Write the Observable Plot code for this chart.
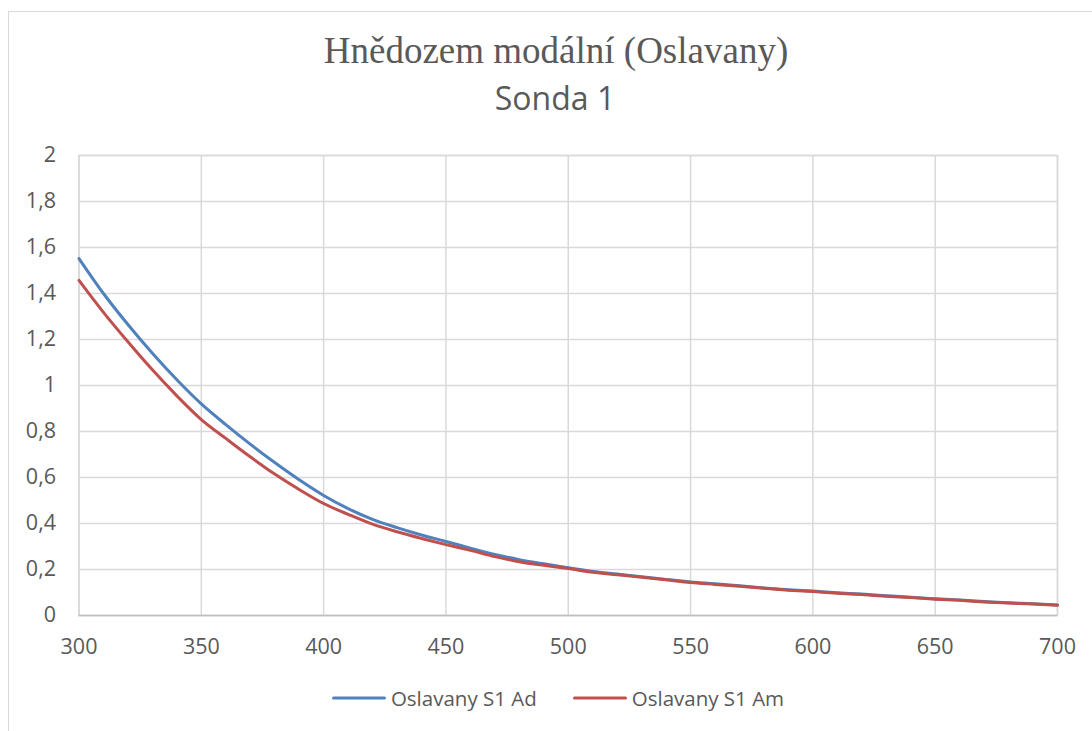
<!DOCTYPE html>
<html>
<head>
<meta charset="utf-8">
<script src="https://cdn.jsdelivr.net/npm/d3@7"></script>
<script src="https://cdn.jsdelivr.net/npm/@observablehq/plot@0.6"></script>
<style>
  html, body { margin: 0; padding: 0; background: #fff; }
  #wrap { position: relative; width: 1092px; height: 731px; overflow: hidden; font-family: "Open Sans", sans-serif; color: #595959; }
  #frame { position: absolute; left: 8px; top: 11px; width: 1110px; height: 740px; border: 1px solid #d9d9d9; box-sizing: border-box; }
  #title { position: absolute; left: 0; width: 1112px; top: 29px; text-align: center; font-family: "Liberation Serif", "Times New Roman", serif; font-size: 37px; line-height: 44px; white-space: nowrap; }
  #subtitle { position: absolute; left: 0; width: 1110px; top: 77px; text-align: center; font-family: "Open Sans", sans-serif; font-size: 32px; line-height: 42px; white-space: nowrap; }
  #chart { position: absolute; left: 0; top: 120px; }
  #legend { position: absolute; left: 0; width: 1116px; top: 685px; display: flex; justify-content: center; align-items: center; font-size: 20.5px; line-height: 26px; white-space: nowrap; }
  .item { display: flex; align-items: center; margin: 0 18px; }
  .item svg { margin-right: 5px; }
</style>
</head>
<body>
<div id="wrap">
  <div id="frame"></div>
  <div id="title">Hnědozem modální (Oslavany)</div>
  <div id="subtitle">Sonda 1</div>
  <div id="chart"></div>
  <div id="legend"></div>
</div>
<script>
// Wavelength (nm)
const wavelengths = [300,310,320,330,340,350,360,370,380,390,400,410,420,430,440,450,460,470,480,490,500,510,520,530,540,550,560,570,580,590,600,610,620,630,640,650,660,670,680,690,700];
// Oslavany S1 Ad
const seriesAd = [1.552,1.40,1.265,1.14,1.025,0.92,0.83,0.745,0.665,0.59,0.522,0.465,0.418,0.382,0.35,0.322,0.293,0.265,0.243,0.225,0.208,0.191,0.18,0.169,0.157,0.146,0.138,0.129,0.12,0.112,0.106,0.099,0.093,0.086,0.079,0.073,0.067,0.061,0.055,0.051,0.046];
// Oslavany S1 Am
const seriesAm = [1.457,1.318,1.19,1.068,0.955,0.852,0.77,0.69,0.615,0.548,0.487,0.44,0.397,0.364,0.335,0.308,0.283,0.256,0.234,0.218,0.204,0.188,0.177,0.166,0.155,0.143,0.135,0.127,0.118,0.11,0.104,0.097,0.091,0.084,0.078,0.071,0.066,0.059,0.054,0.05,0.045];
const seriesNames = ["Oslavany S1 Ad", "Oslavany S1 Am"];
const seriesColors = ["#4f81bd", "#c0504d"];
const xTicks = [300,350,400,450,500,550,600,650,700];
const yTicks = [0,0.2,0.4,0.6,0.8,1,1.2,1.4,1.6,1.8,2];

const data = [];
[seriesAd, seriesAm].forEach((arr, si) => {
  arr.forEach((v, i) => data.push({wl: wavelengths[i], v, s: seriesNames[si]}));
});

const fmtY = d => Number.isInteger(d) ? String(d) : d.toFixed(1).replace(".", ",");

const chart = Plot.plot({
  width: 1092,
  height: 545,
  marginLeft: 78.5,
  marginRight: 35,
  marginTop: 35,
  marginBottom: 50,
  style: { fontFamily: "'Open Sans', sans-serif", fontSize: "21.5px", color: "#595959", background: "transparent" },
  x: { domain: [300, 700], ticks: xTicks, tickSize: 0, tickPadding: 23, label: null, tickFormat: d => String(d) },
  y: { domain: [0, 2], ticks: yTicks, tickSize: 0, tickPadding: 23, label: null, tickFormat: fmtY },
  color: { domain: seriesNames, range: seriesColors },
  marks: [
    Plot.gridX(xTicks, { stroke: "#d9d9d9", strokeOpacity: 1, strokeWidth: 1.5 }),
    Plot.gridY(yTicks, { stroke: "#d9d9d9", strokeOpacity: 1, strokeWidth: 1.5 }),
    Plot.frame({ stroke: "#d9d9d9", strokeWidth: 1.5 }),
    Plot.ruleY([0], { stroke: "#bfbfbf", strokeWidth: 1.5 }),
    Plot.axisX({ ticks: xTicks, tickSize: 0, tickPadding: 23, tickFormat: d => String(d), fill: "#595959" }),
    Plot.axisY({ ticks: yTicks, tickSize: 0, tickPadding: 23, tickFormat: fmtY, fill: "#595959" }),
    Plot.line(data, { x: "wl", y: "v", z: "s", stroke: "s", strokeWidth: 3, curve: "monotone-x" })
  ]
});
document.getElementById("chart").appendChild(chart);

const legend = document.getElementById("legend");
seriesNames.forEach((name, i) => {
  const item = document.createElement("div");
  item.className = "item";
  item.innerHTML = `<svg width="54" height="6"><line x1="1.5" y1="3" x2="52.5" y2="3" stroke="${seriesColors[i]}" stroke-width="3" stroke-linecap="round"/></svg><span>${name}</span>`;
  legend.appendChild(item);
});
</script>
</body>
</html>
